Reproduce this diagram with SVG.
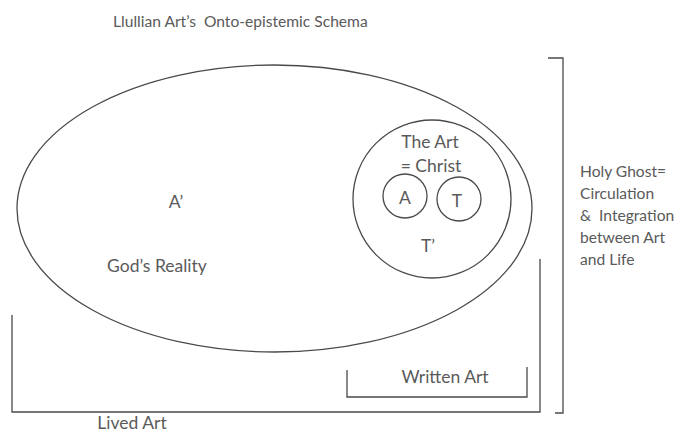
<svg xmlns="http://www.w3.org/2000/svg" width="690" height="435" viewBox="0 0 690 435">
<style>
.ln{fill:none;stroke:#4a4a4a;stroke-width:1.3}
.t{font-family:Lato,"Open Sans","Liberation Sans",sans-serif;font-size:15.6px;fill:#5a5a5a;white-space:pre}
.b{font-size:17.5px}
.c{text-anchor:middle}
</style>
<rect width="690" height="435" fill="#fff"/>
<text class="t" x="113" y="27" xml:space="preserve">Llullian Art’s  Onto-epistemic Schema</text>
<g id="gods-reality">
<ellipse class="ln" cx="274.5" cy="208.5" rx="257.5" ry="143.5"/>
<text class="t b c" x="176" y="208">A’</text>
<text class="t b c" x="157" y="272">God’s Reality</text>
</g>
<g id="the-art">
<circle class="ln" cx="432" cy="199" r="79"/>
<text class="t b c" x="430" y="148">The Art</text>
<text class="t b c" x="431" y="172">= Christ</text>
<text class="t b c" x="428" y="252">T’</text>
</g>
<g id="a">
<circle class="ln" cx="405" cy="196" r="22"/>
<text class="t b c" x="405" y="204">A</text>
</g>
<g id="t">
<circle class="ln" cx="459" cy="199" r="22"/>
<text class="t b c" x="457" y="207">T</text>
</g>
<g id="connectors">
<polyline id="lived-art-bracket" class="ln" points="12,315 12,412 540,412 540,259"/>
<polyline id="written-art-bracket" class="ln" points="347,370 347,397 527,397 527,367"/>
<polyline id="holy-ghost-bracket" class="ln" points="548,58 563,58 563,413 555,413"/>
</g>
<g id="written-art">
<text class="t b c" x="445" y="383">Written Art</text>
</g>
<g id="lived-art">
<text class="t b c" x="132" y="429">Lived Art</text>
</g>
<g id="holy-ghost">
<text class="t" x="580" y="177">Holy Ghost=</text>
<text class="t" x="580" y="199">Circulation</text>
<text class="t" x="580" y="221" xml:space="preserve">&amp;  Integration</text>
<text class="t" x="580" y="243">between Art</text>
<text class="t" x="580" y="265">and Life</text>
</g>
</svg>
